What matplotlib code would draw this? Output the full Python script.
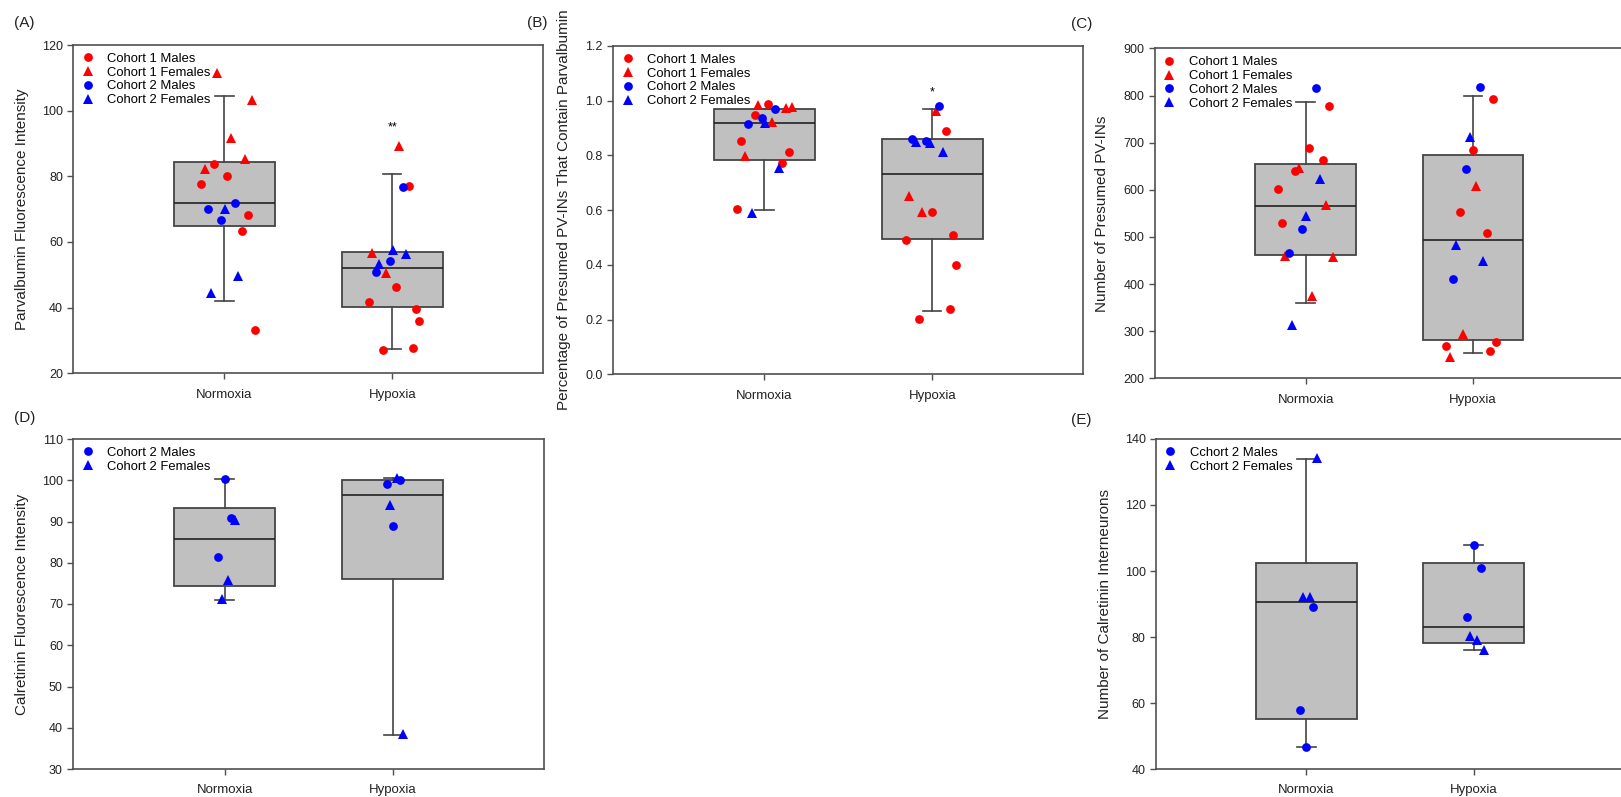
import matplotlib
matplotlib.use('Agg')
import matplotlib.pyplot as plt

plt.rcParams['font.family'] = ['Liberation Sans', 'DejaVu Sans']
plt.rcParams['font.size'] = 9

groups = ['Normoxia', 'Hypoxia']

# ---------------------------------------------------------------------------
# (A) Parvalbumin fluorescence intensity
# values per group [Normoxia, Hypoxia]; *_dx = horizontal jitter
# ---------------------------------------------------------------------------
a_c1_males = [[77.7, 83.8, 80.1, 68.2, 63.3, 33.2],
              [77.1, 46.3, 41.7, 39.6, 35.9, 27.0, 27.7]]
a_c1_males_dx = [[-0.138, -0.060, 0.018, 0.140, 0.103, 0.181],
                 [0.101, 0.023, -0.136, 0.142, 0.160, -0.057, 0.123]]
a_c1_females = [[111.4, 103.1, 91.6, 85.4, 82.3], [89.2, 56.5, 50.4]]
a_c1_females_dx = [[-0.041, 0.162, 0.041, 0.123, -0.117], [0.043, -0.119, -0.039]]
a_c2_males = [[69.9, 72.0, 66.6], [76.8, 54.2, 51.0]]
a_c2_males_dx = [[-0.099, 0.062, -0.018], [0.064, -0.016, -0.099]]
a_c2_females = [[69.9, 49.5, 44.4], [57.5, 56.3, 53.4]]
a_c2_females_dx = [[0.002, 0.082, -0.078], [0.002, 0.084, -0.078]]
# box stats: whisker low, Q1, median, Q3, whisker high
a_box = [[42.1, 65.0, 71.9, 84.5, 104.4], [27.4, 40.1, 52.1, 57.0, 80.7]]

# (B) Fraction of presumed PV-INs containing parvalbumin
b_c1_males = [[0.988, 0.948, 0.852, 0.811, 0.771, 0.604],
              [0.890, 0.594, 0.492, 0.509, 0.398, 0.240, 0.201]]
b_c1_males_dx = [[0.021, -0.058, -0.140, 0.144, 0.103, -0.161],
                 [0.082, 0.0, -0.157, 0.122, 0.142, 0.103, -0.078]]
b_c1_females = [[0.984, 0.972, 0.978, 0.922, 0.799], [0.964, 0.651, 0.595]]
b_c1_females_dx = [[-0.037, 0.126, 0.163, 0.045, -0.118], [0.023, -0.138, -0.058]]
b_c2_males = [[0.968, 0.915, 0.936], [0.982, 0.861, 0.852]]
b_c2_males_dx = [[0.062, -0.097, -0.016], [0.043, -0.118, -0.037]]
b_c2_females = [[0.920, 0.753, 0.588], [0.850, 0.847, 0.813]]
b_c2_females_dx = [[0.004, 0.085, -0.076], [-0.097, -0.016, 0.064]]
b_box = [[0.599, 0.783, 0.918, 0.970, 0.970], [0.230, 0.496, 0.731, 0.859, 0.970]]

# (C) Number of presumed PV-INs
c_c1_males = [[777.7, 688.6, 662.4, 639.8, 601.6, 529.5],
              [791.8, 683.6, 552.1, 508.3, 277.1, 268.6, 257.3]]
c_c1_males_dx = [[0.139, 0.019, 0.101, -0.062, -0.163, -0.141],
                 [0.121, -0.002, -0.078, 0.081, 0.138, -0.159, 0.100]]
c_c1_females = [[646.9, 568.4, 460.2, 458.1, 375.4], [608.7, 294.0, 246.0]]
c_c1_females_dx = [[-0.041, 0.122, -0.122, 0.161, 0.041], [0.021, -0.059, -0.138]]
c_c2_males = [[815.2, 516.1, 466.6], [817.3, 644.0, 410.7]]
c_c2_males_dx = [[0.060, -0.021, -0.101], [0.040, -0.040, -0.119]]
c_c2_females = [[622.1, 544.3, 312.4], [712.6, 482.8, 448.2]]
c_c2_females_dx = [[0.084, 0.0, -0.079], [-0.019, -0.100, 0.061]]
c_box = [[360.5, 462.3, 566.3, 653.9, 785.5], [253.7, 280.6, 494.1, 673.7, 799.6]]

# (D) Calretinin fluorescence intensity
d_c2_males = [[100.2, 90.8, 81.3], [99.2, 100.1, 88.8]]
d_c2_males_dx = [[0.0, 0.039, -0.039], [-0.037, 0.041, 0.002]]
d_c2_females = [[90.4, 75.8, 71.2], [100.6, 94.0, 38.4]]
d_c2_females_dx = [[0.060, 0.021, -0.018], [0.023, -0.019, 0.062]]
d_box = [[70.9, 74.4, 85.7, 93.2, 100.2], [38.2, 76.1, 96.5, 100.1, 100.5]]

# (E) Number of calretinin interneurons
e_c2_males = [[89.0, 58.0, 46.7], [108.0, 100.9, 86.0]]
e_c2_males_dx = [[0.041, -0.039, 0.0], [0.0, 0.043, -0.040]]
e_c2_females = [[134.1, 92.2, 92.2], [80.2, 79.2, 76.2]]
e_c2_females_dx = [[0.062, -0.019, 0.019], [-0.019, 0.021, 0.062]]
e_box = [[46.7, 55.2, 90.5, 102.4, 133.9], [76.0, 78.2, 82.9, 102.5, 107.9]]

RED = '#ff0000'
BLUE = '#0000ff'
EDGE = '#444444'

W, H = 1621, 797
fig = plt.figure(figsize=(W / 100, H / 100), dpi=100)


def px_rect(left, right, top, bottom):
    return [left / W, (H - bottom) / H, (right - left) / W, (bottom - top) / H]


def draw_panel(rect, box, series, ylim, yticks, ylabel, yfmt='{:.0f}', ylab_x=-0.11):
    ax = fig.add_axes(rect)
    stats = [dict(whislo=b[0], q1=b[1], med=b[2], q3=b[3], whishi=b[4], fliers=[])
             for b in box]
    ax.bxp(stats, positions=[1, 2], widths=0.6, capwidths=0.11, patch_artist=True,
           showfliers=False,
           boxprops=dict(facecolor='#c0c0c0', edgecolor=EDGE, linewidth=1.3),
           medianprops=dict(color='#222222', linewidth=1.2),
           whiskerprops=dict(color=EDGE, linewidth=1.2),
           capprops=dict(color=EDGE, linewidth=1.2), zorder=2)
    for label, color, marker, vals, dxs in series:
        xs, ys = [], []
        for gi in range(len(groups)):
            xs += [gi + 1 + d for d in dxs[gi]]
            ys += vals[gi]
        ms = 7.0 if marker == '^' else 6.3
        ax.plot(xs, ys, linestyle='none', marker=marker, ms=ms, color=color,
                markeredgewidth=0, label=label, zorder=3)
    ax.set_xlim(0.1, 2.9)
    ax.set_ylim(*ylim)
    ax.set_yticks(yticks)
    ax.set_yticklabels([yfmt.format(t) for t in yticks])
    ax.set_xticks([1, 2])
    ax.set_xticklabels(groups)
    ax.tick_params(axis='both', direction='out', length=4, width=1, color='#505050',
                   labelsize=9, labelcolor='#222222')
    ax.tick_params(axis='x', pad=7, labelsize=9.5)
    for s in ax.spines.values():
        s.set_color('#505050')
        s.set_linewidth(1.2)
    ax.set_ylabel(ylabel, fontsize=11, va='center', color='#222222')
    ax.yaxis.set_label_coords(ylab_x, 0.5)
    ax.legend(loc='upper left', frameon=False, fontsize=9.4, numpoints=1,
              handlelength=1.0, handletextpad=1.0, labelspacing=0.12,
              borderaxespad=0.2, borderpad=0.4)
    return ax


def four(prefix_vals):
    labels = ['Cohort 1 Males', 'Cohort 1 Females', 'Cohort 2 Males', 'Cohort 2 Females']
    styles = [(RED, 'o'), (RED, '^'), (BLUE, 'o'), (BLUE, '^')]
    return [(lab, c, m, v, d) for lab, (c, m), (v, d) in zip(labels, styles, prefix_vals)]


ax_a = draw_panel(px_rect(73.3, 543.3, 45, 373.3), a_box,
                  four([(a_c1_males, a_c1_males_dx), (a_c1_females, a_c1_females_dx),
                        (a_c2_males, a_c2_males_dx), (a_c2_females, a_c2_females_dx)]),
                  (20, 120), list(range(20, 121, 20)),
                  'Parvalbumin Fluorescence Intensity', ylab_x=-0.11)
ax_a.text(2, 94.8, '**', ha='center', va='center', fontsize=9)

ax_b = draw_panel(px_rect(613.3, 1083.3, 46, 374.3), b_box,
                  four([(b_c1_males, b_c1_males_dx), (b_c1_females, b_c1_females_dx),
                        (b_c2_males, b_c2_males_dx), (b_c2_females, b_c2_females_dx)]),
                  (0, 1.2), [0, 0.2, 0.4, 0.6, 0.8, 1.0, 1.2],
                  'Percentage of Presumed PV-INs That Contain Parvalbumin',
                  yfmt='{:.1f}', ylab_x=-0.105)
ax_b.text(2, 1.03, '*', ha='center', va='center', fontsize=9)

draw_panel(px_rect(1155, 1623.6, 48.5, 378.3), c_box,
           four([(c_c1_males, c_c1_males_dx), (c_c1_females, c_c1_females_dx),
                 (c_c2_males, c_c2_males_dx), (c_c2_females, c_c2_females_dx)]),
           (200, 900), list(range(200, 901, 100)),
           'Number of Presumed PV-INs', ylab_x=-0.113)

draw_panel(px_rect(73.3, 544.3, 439, 769), d_box,
           [('Cohort 2 Males', BLUE, 'o', d_c2_males, d_c2_males_dx),
            ('Cohort 2 Females', BLUE, '^', d_c2_females, d_c2_females_dx)],
           (30, 110), list(range(30, 111, 10)),
           'Calretinin Fluorescence Intensity', ylab_x=-0.109)

draw_panel(px_rect(1156, 1624, 439, 769), e_box,
           [('Cchort 2 Males', BLUE, 'o', e_c2_males, e_c2_males_dx),
            ('Cchort 2 Females', BLUE, '^', e_c2_females, e_c2_females_dx)],
           (40, 140), list(range(40, 141, 20)),
           'Number of Calretinin Interneurons', ylab_x=-0.11)

# panel letters
for lab, x, y in [('(A)', 14, 23), ('(B)', 527, 23), ('(C)', 1071, 24),
                  ('(D)', 14, 418), ('(E)', 1071, 420)]:
    fig.text(x / W, 1 - y / H, lab, ha='left', va='center', fontsize=11, color='#222222')

fig.savefig('out.png', dpi=100, facecolor='white')
plt.close(fig)
